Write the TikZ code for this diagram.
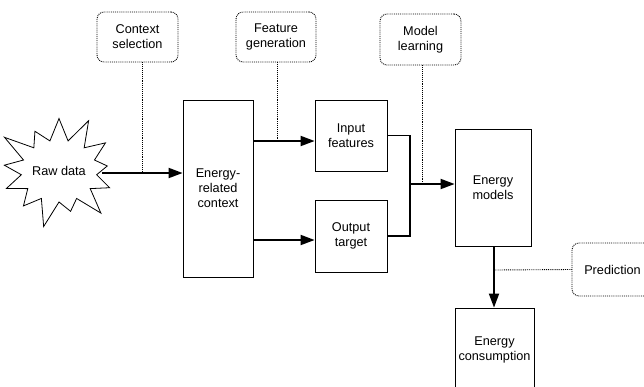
\documentclass[tikz,border=0pt]{standalone}
\usepackage{fontspec}
\setmainfont{Liberation Sans}
\usetikzlibrary{arrows.meta,shapes.symbols}
\tikzset{
  block/.style={
    draw=black,
    fill=white,
    line width=0.8pt,
    align=center,
    inner sep=1pt
  },
  note/.style={
    draw=black,
    densely dotted,
    line width=0.9pt,
    rounded corners=7pt,
    align=center
  },
  flow/.style={
    line width=1.8pt,
    ->,
    >={Triangle[length=14pt,width=10pt]}
  },
  wire/.style={
    line width=1.8pt,
    -
  },
  guide/.style={
    densely dotted,
    line width=0.9pt,
    -
  },
}

\begin{document}
\begin{tikzpicture}[x=1pt,y=-1pt,font=\fontsize{12.7}{15}\selectfont]

  \useasboundingbox (0,0) rectangle (644,386);
  \clip (0,0) rectangle (644,386);

  \def\YMAIN{173}
  \def\YFEAT{141}
  \def\YTARG{240}
  \def\YMODEL{184}
  \def\YPRED{270}
  \def\XJOIN{410}

  % blocks
  \node[shape=starburst, draw=black, fill=white, line width=0.8pt,
        starburst points=13, starburst point height=30pt,
        minimum width=104pt, minimum height=122pt, inner sep=0pt]
        (raw) at (59,171) {Raw data};
  \node[block, minimum width=70pt, minimum height=177pt] (ectx) at (218,188.5)
        {Energy-\\related\\context};
  \node[block, minimum width=72pt, minimum height=71pt] (input) at (351,135.5)
        {Input\\features};
  \node[block, minimum width=72pt, minimum height=72pt] (output) at (351,236)
        {Output\\target};
  \node[block, minimum width=76pt, minimum height=117pt] (models) at (493,187.5)
        {Energy\\models};
  \node[block, minimum width=79pt, minimum height=84pt] (cons) at (494.5,350)
        {Energy\\consumption};

  % steps
  \node[note, minimum width=81pt, minimum height=50pt] (ctxsel) at (137.5,37)
        {Context\\selection};
  \node[note, minimum width=80pt, minimum height=50pt] (featgen) at (276,37)
        {Feature\\generation};
  \node[note, minimum width=81pt, minimum height=51pt] (modlearn) at (420.5,39.5)
        {Model\\learning};
  \node[note, minimum width=81pt, minimum height=53pt] (pred) at (612.5,269.5)
        {Prediction};

  \coordinate (ctxjoin) at (142,\YMAIN);
  \coordinate (featjoin) at (277,\YFEAT);
  \coordinate (learnjoin) at (422,\YMODEL);
  \coordinate (predjoin) at (494,\YPRED);
  \coordinate (mergein) at (\XJOIN,\YMODEL);

  % step guides
  \draw[guide] (ctxsel.south -| ctxjoin) -- (ctxjoin);
  \draw[guide] (featgen.south -| featjoin) -- (featjoin);
  \draw[guide] (modlearn.south -| learnjoin) -- (learnjoin);
  \draw[guide] (pred.west) -- (predjoin);

  % data flow
  \draw[flow] (raw.east |- ctxjoin) -- (ectx.west |- ctxjoin);
  \draw[flow] (ectx.east |- featjoin) -- (input.west |- featjoin);
  \draw[flow] (ectx.east |- 0,\YTARG) -- (output.west |- 0,\YTARG);
  \draw[wire] (input.east) -| (mergein) |- (output.east);
  \draw[flow] (mergein) -- (models.west |- mergein);
  \draw[flow] (models.south -| predjoin) -- (cons.north -| predjoin);

\end{tikzpicture}
\end{document}
